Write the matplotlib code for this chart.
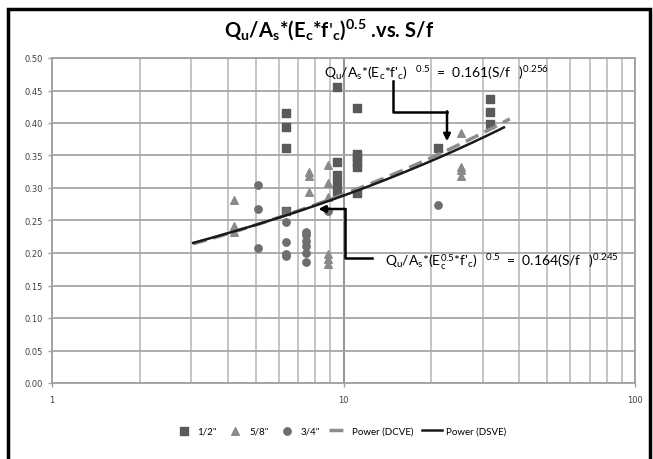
import matplotlib
matplotlib.use("Agg")
import matplotlib.pyplot as plt
import matplotlib.patches as patches
import matplotlib.ticker as plticker
import numpy as np

plt.rcParams['font.family'] = ['Lato', 'DejaVu Sans']
plt.rcParams['mathtext.fontset'] = 'custom'
plt.rcParams['mathtext.rm'] = 'Lato'
plt.rcParams['mathtext.bf'] = 'Lato:bold'

# data (S/f, Qu/As*(Ec*f'c)^0.5)
half_x  = [9.52, 11.13, 6.35, 6.35, 6.35, 9.52, 9.52, 9.52, 9.52, 11.13, 11.13,
           11.13, 11.13, 11.13, 31.8, 31.8, 31.8, 21.15, 6.35]
half_y  = [0.455, 0.423, 0.415, 0.394, 0.361, 0.340, 0.320, 0.306, 0.296, 0.352,
           0.347, 0.340, 0.332, 0.293, 0.437, 0.417, 0.398, 0.361, 0.265]

five_x  = [4.22, 4.22, 4.22, 8.87, 8.87, 8.87, 25.3, 25.3, 25.3, 25.3, 8.87, 8.87,
           8.87, 7.63, 7.63, 7.63]
five_y  = [0.281, 0.242, 0.232, 0.335, 0.308, 0.286, 0.384, 0.332, 0.327, 0.318,
           0.198, 0.191, 0.183, 0.324, 0.319, 0.294]

three_x = [5.08, 5.08, 5.08, 6.35, 6.35, 6.35, 6.35, 6.35, 7.42, 7.42, 7.42, 7.42,
           7.42, 7.42, 21.15, 8.87]
three_y = [0.305, 0.268, 0.208, 0.264, 0.247, 0.217, 0.198, 0.195, 0.233, 0.227,
           0.219, 0.211, 0.200, 0.186, 0.274, 0.264]

# power trend lines  y = a * x^b
dcve_a, dcve_b = 0.161, 0.256
dsve_a, dsve_b = 0.164, 0.245
trend_start, dcve_end, dsve_end = 3.05, 37.2, 35.5

fig = plt.figure(figsize=(6.53, 4.6), dpi=100)
ax = fig.add_axes([52/653, 1-384/460, (635-52)/653, (384-59)/460])

ax.set_xscale('log')
ax.set_xlim(1, 100)
ax.set_ylim(0, 0.5)
ax.yaxis.set_major_locator(plticker.MultipleLocator(0.05))
ax.yaxis.set_major_formatter(plticker.FormatStrFormatter('%.2f'))
ax.xaxis.set_major_formatter(plticker.FuncFormatter(lambda v, p: '%d' % v))
ax.xaxis.set_minor_formatter(plticker.NullFormatter())

ax.grid(which='major', axis='y', color='#a6a6a6', linewidth=1.3)
ax.grid(which='minor', axis='x', color='#bfbfbf', linewidth=1.3)
ax.grid(which='major', axis='x', color='#8c8c8c', linewidth=1.3)
ax.set_axisbelow(True)
for s in ax.spines.values():
    s.set_color('#a0a0a0')
    s.set_linewidth(1.3)
ax.tick_params(axis='both', which='both', colors='#a0a0a0', labelcolor='#404040',
               labelsize=6, length=3, width=1)
ax.tick_params(axis='x', which='minor', length=0)
ax.tick_params(axis='x', which='major', pad=6)
for lab in ax.get_xticklabels() + ax.get_yticklabels():
    lab.set_family('DejaVu Sans')

ax.scatter(half_x, half_y, marker='s', s=30, color='#5a5a5a', label='1/2"', zorder=3)
ax.scatter(five_x, five_y, marker='^', s=30, color='#8a8a8a', label='5/8"', zorder=3)
ax.scatter(three_x, three_y, marker='o', s=28, color='#6e6e6e', label='3/4"', zorder=3)

xs = np.logspace(np.log10(trend_start), np.log10(dcve_end), 100)
ax.plot(xs, dcve_a * xs ** dcve_b, color='#8c8c8c', linestyle=(0, (4, 2)),
        linewidth=2.5, label='Power (DCVE)', zorder=4)
xs = np.logspace(np.log10(trend_start), np.log10(dsve_end), 100)
ax.plot(xs, dsve_a * xs ** dsve_b, color='#1a1a1a', linewidth=1.8,
        label='Power (DSVE)', zorder=5)

# annotation 1 (DCVE)
ax.text(8.57, 0.4785,
        r"$\mathregular{Q_u/A_s{*}(E_c{*}f\text{'}_c)\ \ ^{0.5}\ {=}\ 0.161(S/f\ \ )^{0.256}}$",
        fontsize=10, ha='left', va='center', color='black', zorder=6)
ax.plot([14.78, 14.78, 22.65], [0.4646, 0.417, 0.417], color='black', lw=1.8, zorder=6)
ax.annotate('', xy=(22.65, 0.372), xytext=(22.65, 0.418),
            arrowprops=dict(arrowstyle='-|>', color='black', lw=1.8,
                            mutation_scale=10, shrinkA=0, shrinkB=0), zorder=6)

# annotation 2 (DSVE)
ax.text(13.88, 0.1877,
        r"$\mathregular{Q_u/A_s{*}(E_c^{0.5}{*}f\text{'}_c)\ \ ^{0.5}\ {=}\ 0.164(S/f\ \ )^{0.245}}$",
        fontsize=10, ha='left', va='center', color='black', zorder=6)
ax.plot([12.5, 10.12, 10.12], [0.1918, 0.1918, 0.2677], color='black', lw=1.8, zorder=6)
ax.annotate('', xy=(8.2, 0.2677), xytext=(10.15, 0.2677),
            arrowprops=dict(arrowstyle='-|>', color='black', lw=1.8,
                            mutation_scale=10, shrinkA=0, shrinkB=0), zorder=6)

fig.text(329/653, 1-30/460,
         r"$\mathregular{Q_u/A_s{*}(E_c{*}f\text{'}_c)^{0.5}}$ .vs. S/f",
         fontsize=14.5, fontweight='bold', ha='center', va='center')

fig.legend(loc='center', bbox_to_anchor=(340/653, 1-432/460), ncol=5, frameon=False,
           fontsize=7, handlelength=2.0, columnspacing=0.9, handletextpad=0.4)

# outer chart frame
frame = patches.Rectangle((8/653, -0.05), (650-8)/653, 1.05-10/460, transform=fig.transFigure,
                          fill=False, edgecolor='black', linewidth=2.5, clip_on=False)
fig.add_artist(frame)

fig.savefig('out.png', dpi=100)
